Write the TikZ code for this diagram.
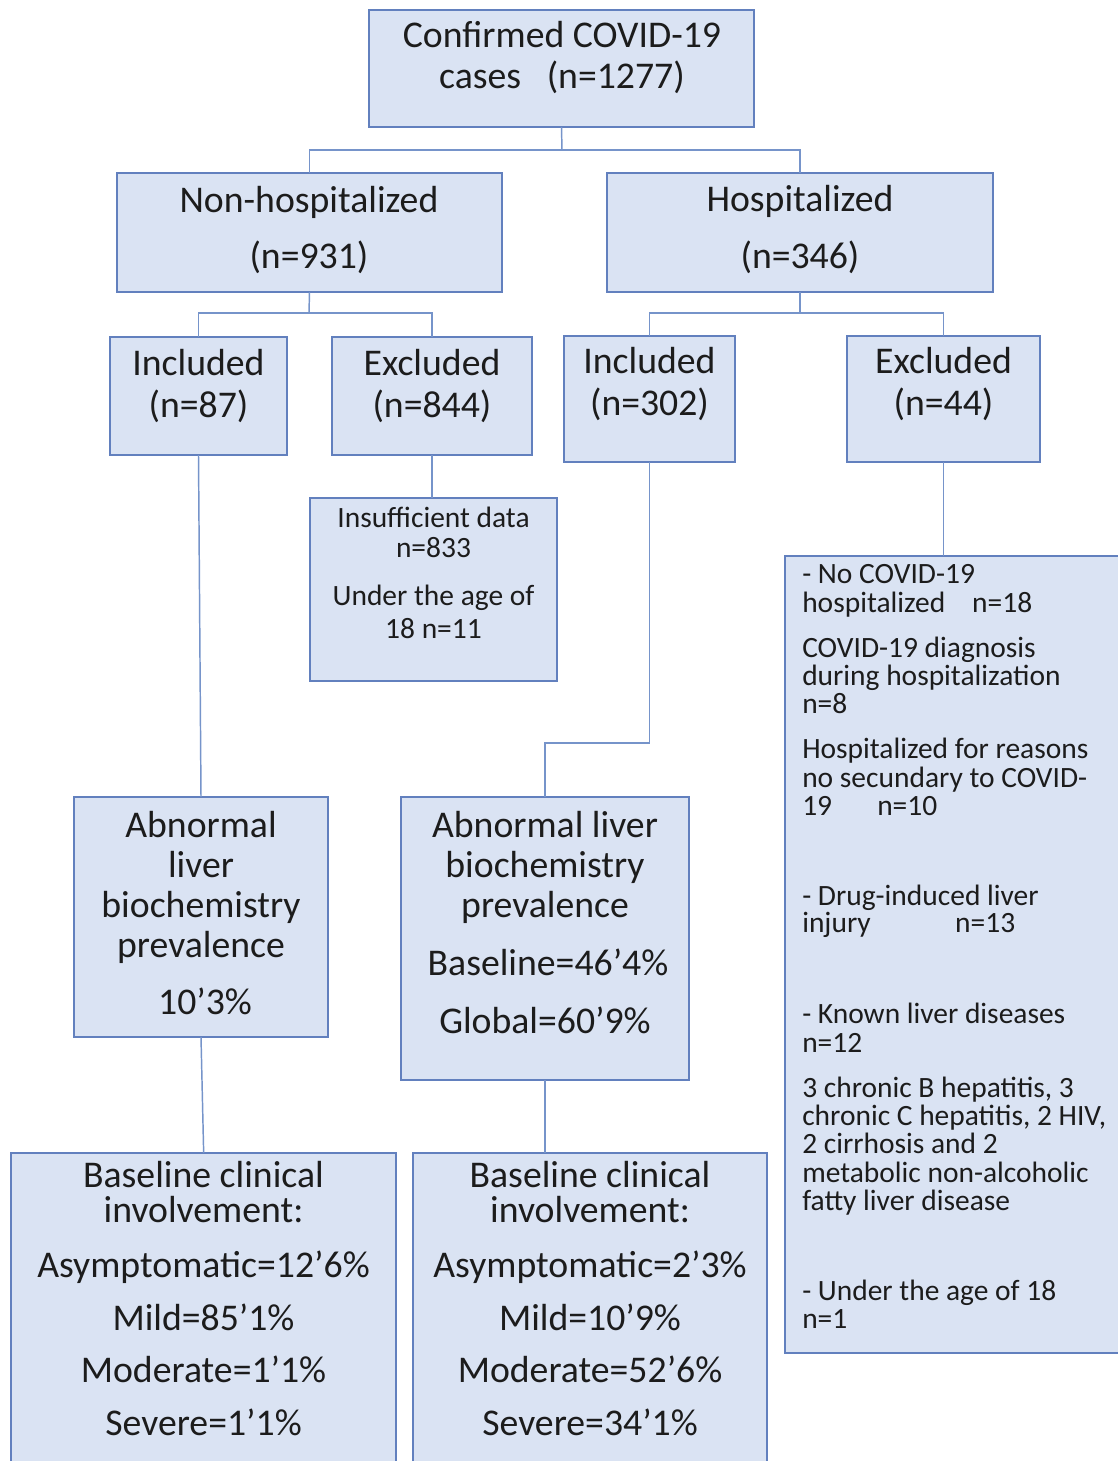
\documentclass[tikz,border=0pt]{standalone}
\usepackage{fontspec}
\setmainfont{Carlito}
\usetikzlibrary{fit}
\definecolor{boxfill}{RGB}{218,227,243}
\definecolor{boxline}{RGB}{98,128,190}
\definecolor{connline}{RGB}{118,148,202}
\definecolor{txtc}{RGB}{28,28,28}
\newcommand\bigf{\fontsize{28.3}{34}\selectfont}
\newcommand\smallf{\fontsize{22.1}{26}\selectfont}
\tikzset{
  box/.style={draw=boxline, fill=boxfill, line width=1.3pt, inner sep=0pt, outer sep=0pt, rectangle},
  conn/.style={draw=connline, line width=1.1pt},
  bt/.style={font=\bigf, text=txtc, anchor=base, inner sep=0pt},
  st/.style={font=\smallf, text=txtc, anchor=base, inner sep=0pt},
  sl/.style={font=\smallf, text=txtc, anchor=base west, inner sep=0pt},
}
\begin{document}
\begin{tikzpicture}[x=0.75pt,y=-0.75pt]
\clip (0,0) rectangle (1118,1461);
\fill[white] (0,0) rectangle (1118,1461);
% boxes
\node[box, fit={(369,10) (754,127)}] (top) {};
\node[box, fit={(117,173) (502,292)}] (nonhosp) {};
\node[box, fit={(607,173) (993,292)}] (hosp) {};
\node[box, fit={(110,337) (287,455)}] (inc1) {};
\node[box, fit={(332,337) (532,455)}] (exc1) {};
\node[box, fit={(564,336) (735,462)}] (inc2) {};
\node[box, fit={(847,336) (1040,462)}] (exc2) {};
\node[box, fit={(310,498) (557,681)}] (insuf) {};
\node[box, fit={(74,797) (328,1037)}] (abn1) {};
\node[box, fit={(401,797) (689,1080)}] (abn2) {};
\node[box, fit={(11,1153) (396,1480)}] (base1) {};
\node[box, fit={(413,1153) (767,1480)}] (base2) {};
\node[box, fit={(785,556) (1140,1353)}] (rbox) {};
% connectors
\coordinate (j1) at (562,150);
\coordinate (j2) at (309,313);
\coordinate (j3) at (800,313);
\coordinate (j4) at (545,743);
\draw[conn] (top.south) -- (j1);
\draw[conn] (nonhosp.north) |- (j1) -| (hosp.north);
\draw[conn] (nonhosp.south) -- (j2);
\draw[conn] (inc1.north) |- (j2) -| (exc1.north);
\draw[conn] (hosp.south) -- (j3);
\draw[conn] (inc2.north) |- (j3) -| (exc2.north);
\draw[conn] (exc1.south) -- (exc1.south |- insuf.north);
\draw[conn] (inc1.south) -- (abn1.north);
\draw[conn] (abn1.south) -- ([xshift=2pt]abn1.south |- base1.north);
\draw[conn] (inc2.south) |- (j4) -| (abn2.north);
\draw[conn] (abn2.south) -- (abn2.south |- base2.north);
\draw[conn] (exc2.south) -- (exc2.south |- rbox.north);
% texts
\node[bt] (top1) at (562,47) {Confirmed COVID-19};
\node[bt] (top2) at (562,88) {cases\ \ \ (n=1277)};
\node[bt] (nh1) at (309,212) {Non-hospitalized};
\node[bt] (nh2) at (309,268) {(n=931)};
\node[bt] (h1) at (800,211) {Hospitalized};
\node[bt] (h2) at (800,268) {(n=346)};
\node[bt] (i1a) at (198.5,375) {Included};
\node[bt] (i1b) at (198.5,417) {(n=87)};
\node[bt] (e1a) at (432,375) {Excluded};
\node[bt] (e1b) at (432,417) {(n=844)};
\node[bt] (i2a) at (649.5,373) {Included};
\node[bt] (i2b) at (649.5,415) {(n=302)};
\node[bt] (e2a) at (943.5,373) {Excluded};
\node[bt] (e2b) at (943.5,415) {(n=44)};
\node[st] (s1) at (433.5,527) {Insufficient data};
\node[st] (s2) at (433.5,557) {n=833};
\node[st] (s3) at (433.5,605) {Under the age of};
\node[st] (s4) at (433.5,638) {18 n=11};
\node[bt] (a1a) at (201,837) {Abnormal};
\node[bt] (a1b) at (201,877) {liver};
\node[bt] (a1c) at (201,917) {biochemistry};
\node[bt] (a1d) at (201,957) {prevalence};
\node[bt] (a1e) at (205,1014) {10’3\%};
\node[bt] (a2a) at (545,837) {Abnormal liver};
\node[bt] (a2b) at (545,877) {biochemistry};
\node[bt] (a2c) at (545,917) {prevalence};
\node[bt] (a2d) at (548,975) {Baseline=46’4\%};
\node[bt] (a2e) at (545,1033) {Global=60’9\%};
\node[bt] (b1a) at (203.5,1187) {Baseline clinical};
\node[bt] (b1b) at (203.5,1222) {involvement:};
\node[bt] (b1c) at (203.5,1277) {Asymptomatic=12’6\%};
\node[bt] (b1d) at (203.5,1330) {Mild=85’1\%};
\node[bt] (b1e) at (203.5,1382) {Moderate=1’1\%};
\node[bt] (b1f) at (203.5,1435) {Severe=1’1\%};
\node[bt] (b2a) at (590,1187) {Baseline clinical};
\node[bt] (b2b) at (590,1222) {involvement:};
\node[bt] (b2c) at (590,1277) {Asymptomatic=2’3\%};
\node[bt] (b2d) at (590,1330) {Mild=10’9\%};
\node[bt] (b2e) at (590,1382) {Moderate=52’6\%};
\node[bt] (b2f) at (590,1435) {Severe=34’1\%};
\node[sl] (r1) at (802,583) {- No COVID-19};
\node[sl] (r2) at (802,612) {\makebox[127.5pt][l]{hospitalized}n=18};
\node[sl] (r3) at (802,657) {COVID-19 diagnosis};
\node[sl] (r4) at (802,685) {during hospitalization};
\node[sl] (r5) at (802,713) {n=8};
\node[sl] (r6) at (802,758) {Hospitalized for reasons};
\node[sl] (r7) at (802,787) {no secundary to COVID-};
\node[sl] (r8) at (802,815) {\makebox[56.25pt][l]{19}n=10};
\node[sl] (r9) at (802,905) {- Drug-induced liver};
\node[sl] (r10) at (802,932) {\makebox[114.75pt][l]{injury}n=13};
\node[sl] (r11) at (802,1023) {- Known liver diseases};
\node[sl] (r12) at (802,1052) {n=12};
\node[sl] (r13) at (802,1097) {3 chronic B hepatitis, 3};
\node[sl] (r14) at (802,1125) {chronic C hepatitis, 2 HIV,};
\node[sl] (r15) at (802,1153) {2 cirrhosis and 2};
\node[sl] (r16) at (802,1182) {metabolic non-alcoholic};
\node[sl] (r17) at (802,1210) {fatty liver disease};
\node[sl] (r18) at (802,1300) {- Under the age of 18};
\node[sl] (r19) at (802,1328) {n=1};
\end{tikzpicture}
\end{document}
